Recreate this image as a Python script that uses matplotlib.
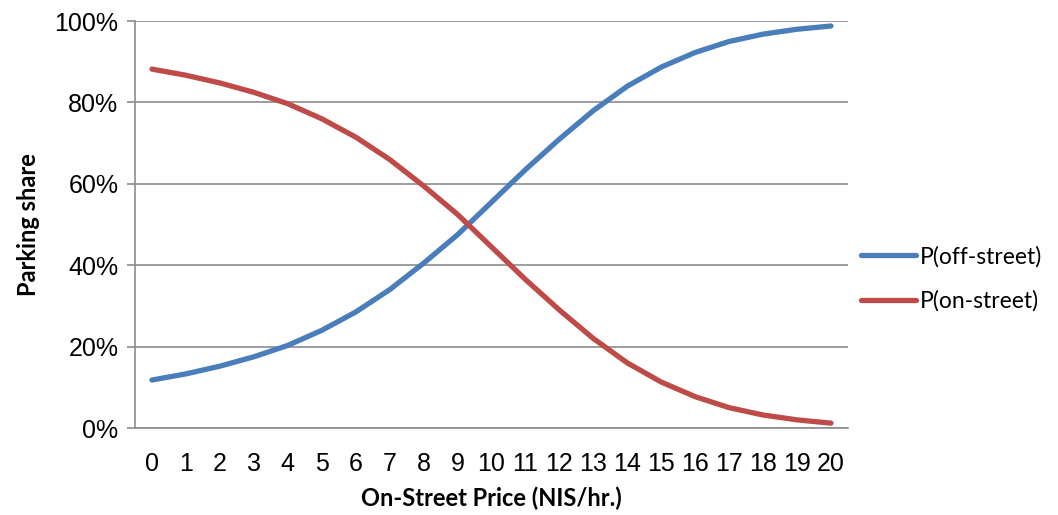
import numpy as np
import matplotlib.pyplot as plt
from matplotlib.ticker import PercentFormatter

# price in NIS/hr and the two shares (%)
price = list(range(21))
p_off = [11.8, 13.3, 15.2, 17.5, 20.3, 24.0, 28.5, 34.0, 40.5, 47.5, 55.5,
         63.5, 71.0, 78.0, 84.0, 88.7, 92.3, 95.0, 96.8, 98.0, 98.8]
p_on = [88.2, 86.7, 84.8, 82.5, 79.7, 76.0, 71.5, 66.0, 59.5, 52.5, 44.5,
        36.5, 29.0, 22.0, 16.0, 11.3, 7.7, 5.0, 3.2, 2.0, 1.2]
labels = ["P(off-street)", "P(on-street)"]

fig = plt.figure(figsize=(10.58, 5.15), dpi=100)
ax = fig.add_axes([0.1276, 0.1689, 0.8015 - 0.1276, 0.959 - 0.1689])

ax.plot(price, p_off, color="#4A7EBB", lw=3.8, solid_capstyle="round", label=labels[0])
ax.plot(price, p_on, color="#BE4B48", lw=3.8, solid_capstyle="round", label=labels[1])

ax.set_xlim(-0.5, 20.5)
ax.set_ylim(0, 100)
ax.set_yticks(np.arange(0, 101, 20))
ax.yaxis.set_major_formatter(PercentFormatter(decimals=0))
ax.set_xticks(price)
ax.grid(axis="y", color="#8C8C8C", lw=1.2)
ax.set_axisbelow(True)
for s in ["top", "right"]:
    ax.spines[s].set_visible(False)
for s in ["left", "bottom"]:
    ax.spines[s].set_color("#8C8C8C")
    ax.spines[s].set_linewidth(1.2)
ax.tick_params(axis="y", length=6, width=1.2, color="#8C8C8C", pad=6,
               labelsize=18, labelfontfamily="Liberation Sans")
ax.tick_params(axis="x", length=0, pad=17, labelsize=18, labelfontfamily="Liberation Sans")

ax.set_xlabel("On-Street Price (NIS/hr.)", fontsize=17, fontweight="bold",
              family="Lato", labelpad=8)
ax.set_ylabel("Parking share", fontsize=17, fontweight="bold", family="Lato", labelpad=10)

ax.legend(loc="center left", bbox_to_anchor=(0.99, 0.367), frameon=False,
          prop={"family": "Lato", "size": 16.5}, handlelength=2.4, handletextpad=0.15,
          labelspacing=1.0)

fig.savefig("out.png", dpi=100)
